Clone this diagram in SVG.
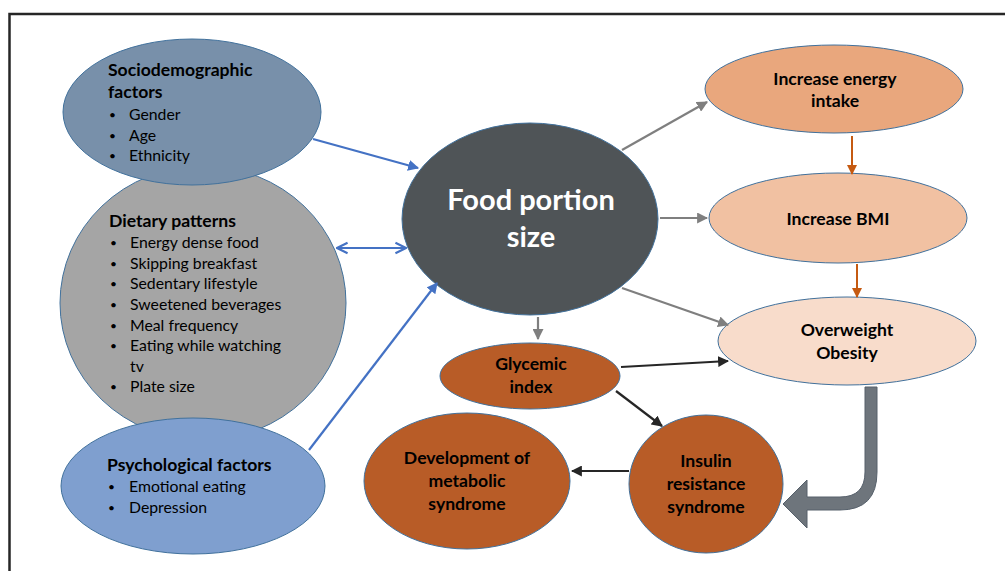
<svg xmlns="http://www.w3.org/2000/svg" width="1005" height="571" viewBox="0 0 1005 571">
<style>
.nd{stroke:#41719c;stroke-width:1}
.t{font-family:Lato,"Liberation Sans",sans-serif;fill:#000}
.h{font-weight:bold;font-size:17.6px}
.b{font-size:15.8px}
.d{font-size:12px}
.c{font-weight:bold;font-size:17.6px;text-anchor:middle}
.blue{stroke:#4472c4;stroke-width:2.2;fill:none}
.gray{stroke:#7f7f7f;stroke-width:2.2;fill:none}
.brown{stroke:#c55a11;stroke-width:2;fill:none}
.dark{stroke:#262626;stroke-width:2.2;fill:none}
</style>
<defs>
<marker id="ab" viewBox="0 0 10 10" refX="9" refY="5" markerWidth="5" markerHeight="5" orient="auto" markerUnits="strokeWidth"><path d="M0,0 L10,5 L0,10 Z" fill="#4472c4"/></marker>
<marker id="abo" viewBox="0 0 10 10" refX="9" refY="5" markerWidth="6" markerHeight="6" orient="auto-start-reverse" markerUnits="strokeWidth"><path d="M1,1 L9,5 L1,9" fill="none" stroke="#4472c4" stroke-width="1.6"/></marker>
<marker id="ag" viewBox="0 0 10 10" refX="9" refY="5" markerWidth="5" markerHeight="5" orient="auto" markerUnits="strokeWidth"><path d="M0,0 L10,5 L0,10 Z" fill="#7f7f7f"/></marker>
<marker id="ar" viewBox="0 0 10 10" refX="9" refY="5" markerWidth="5" markerHeight="5" orient="auto" markerUnits="strokeWidth"><path d="M0,0 L10,5 L0,10 Z" fill="#c55a11"/></marker>
<marker id="ad" viewBox="0 0 10 10" refX="9" refY="5" markerWidth="5" markerHeight="5" orient="auto" markerUnits="strokeWidth"><path d="M0,0 L10,5 L0,10 Z" fill="#262626"/></marker>
</defs>
<rect width="1005" height="571" fill="#fff"/>
<path d="M9.5 571 L9.5 14 L1005 14" fill="none" stroke="#262626" stroke-width="2.5"/>

<g id="dietary">
<ellipse class="nd" cx="203" cy="303" rx="143" ry="137" fill="#a5a5a5"/>
<text class="t h" x="109" y="227">Dietary patterns</text>
<g class="t d">
<text x="110" y="246.5">•</text>
<text x="110" y="267.5">•</text>
<text x="110" y="287.5">•</text>
<text x="110" y="308.5">•</text>
<text x="110" y="329.5">•</text>
<text x="110" y="349.5">•</text>
<text x="110" y="390.5">•</text>
</g>
<g class="t b">
<text x="130" y="248">Energy dense food</text>
<text x="130" y="269">Skipping breakfast</text>
<text x="130" y="289">Sedentary lifestyle</text>
<text x="130" y="310">Sweetened beverages</text>
<text x="130" y="331">Meal frequency</text>
<text x="130" y="351">Eating while watching</text>
<text x="130" y="372">tv</text>
<text x="130" y="392">Plate size</text>
</g>
</g>

<g id="sociodemographic">
<ellipse class="nd" cx="192" cy="112" rx="129" ry="73" fill="#7890aa"/>
<text class="t h" x="108" y="76">Sociodemographic</text>
<text class="t h" x="108" y="98">factors</text>
<g class="t d">
<text x="109" y="118.5">•</text>
<text x="109" y="139.5">•</text>
<text x="109" y="159.5">•</text>
</g>
<g class="t b">
<text x="129" y="120">Gender</text>
<text x="129" y="141">Age</text>
<text x="129" y="161">Ethnicity</text>
</g>
</g>

<g id="psychological">
<ellipse class="nd" cx="193" cy="486" rx="132" ry="68" fill="#7f9fcf"/>
<text class="t h" x="107" y="471">Psychological factors</text>
<g class="t d">
<text x="108" y="490.5">•</text>
<text x="108" y="511.5">•</text>
</g>
<g class="t b">
<text x="129" y="492">Emotional eating</text>
<text x="129" y="513">Depression</text>
</g>
</g>

<g id="food-portion">
<ellipse class="nd" cx="530" cy="219" rx="128" ry="96" fill="#4f5457"/>
<text class="t" x="531" y="210" style="font-weight:bold;font-size:29px;text-anchor:middle;fill:#fff">Food portion</text>
<text class="t" x="531" y="247" style="font-weight:bold;font-size:29px;text-anchor:middle;fill:#fff">size</text>
</g>

<g id="energy-intake">
<ellipse class="nd" cx="834" cy="89" rx="129" ry="44" fill="#e9a77d"/>
<text class="t c" x="835" y="85">Increase energy</text>
<text class="t c" x="835" y="107">intake</text>
</g>

<g id="bmi">
<ellipse class="nd" cx="838" cy="218" rx="129" ry="45" fill="#f1c1a2"/>
<text class="t c" x="838" y="225">Increase BMI</text>
</g>

<g id="overweight">
<ellipse class="nd" cx="847" cy="341" rx="129" ry="44" fill="#f8dccb"/>
<text class="t c" x="847" y="336">Overweight</text>
<text class="t c" x="847" y="359">Obesity</text>
</g>

<g id="glycemic">
<ellipse class="nd" cx="530" cy="376" rx="90" ry="33" fill="#b85c27"/>
<text class="t c" x="531" y="370">Glycemic</text>
<text class="t c" x="531" y="393">index</text>
</g>

<g id="insulin">
<ellipse class="nd" cx="706" cy="484" rx="77" ry="69" fill="#b85c27"/>
<text class="t c" x="706" y="467">Insulin</text>
<text class="t c" x="706" y="490">resistance</text>
<text class="t c" x="706" y="513">syndrome</text>
</g>

<g id="metabolic">
<ellipse class="nd" cx="467" cy="481" rx="103" ry="68" fill="#b85c27"/>
<text class="t c" x="467" y="464">Development of</text>
<text class="t c" x="467" y="487">metabolic</text>
<text class="t c" x="467" y="510">syndrome</text>
</g>

<g id="connectors">
<line class="blue" x1="313" y1="139" x2="418" y2="168" marker-end="url(#ab)"/>
<line class="blue" x1="337" y1="248" x2="406" y2="248" marker-start="url(#abo)" marker-end="url(#abo)"/>
<line class="blue" x1="309" y1="450" x2="437" y2="283" marker-end="url(#ab)"/>
<line class="gray" x1="622" y1="150" x2="707" y2="102" marker-end="url(#ag)"/>
<line class="gray" x1="660" y1="218" x2="707" y2="218" marker-end="url(#ag)"/>
<line class="gray" x1="622" y1="288" x2="728" y2="325" marker-end="url(#ag)"/>
<line class="gray" x1="538" y1="317" x2="538" y2="339" marker-end="url(#ag)"/>
<line class="brown" x1="852" y1="136" x2="852" y2="174" marker-end="url(#ar)"/>
<line class="brown" x1="857" y1="264" x2="857" y2="297" marker-end="url(#ar)"/>
<line class="dark" x1="621" y1="367" x2="728" y2="361" marker-end="url(#ad)"/>
<line class="dark" x1="616" y1="391" x2="662" y2="426" marker-end="url(#ad)"/>
<line class="dark" x1="629" y1="471" x2="572" y2="471" marker-end="url(#ad)"/>
<path d="M865 387 L877 387 L877 472 Q877 510 840 510 L807 510 L807 528 L783 504 L807 480 L807 497 L840 497 Q865 497 865 472 Z" fill="#6e757c" stroke="#56606b" stroke-width="1"/>
</g>
</svg>
